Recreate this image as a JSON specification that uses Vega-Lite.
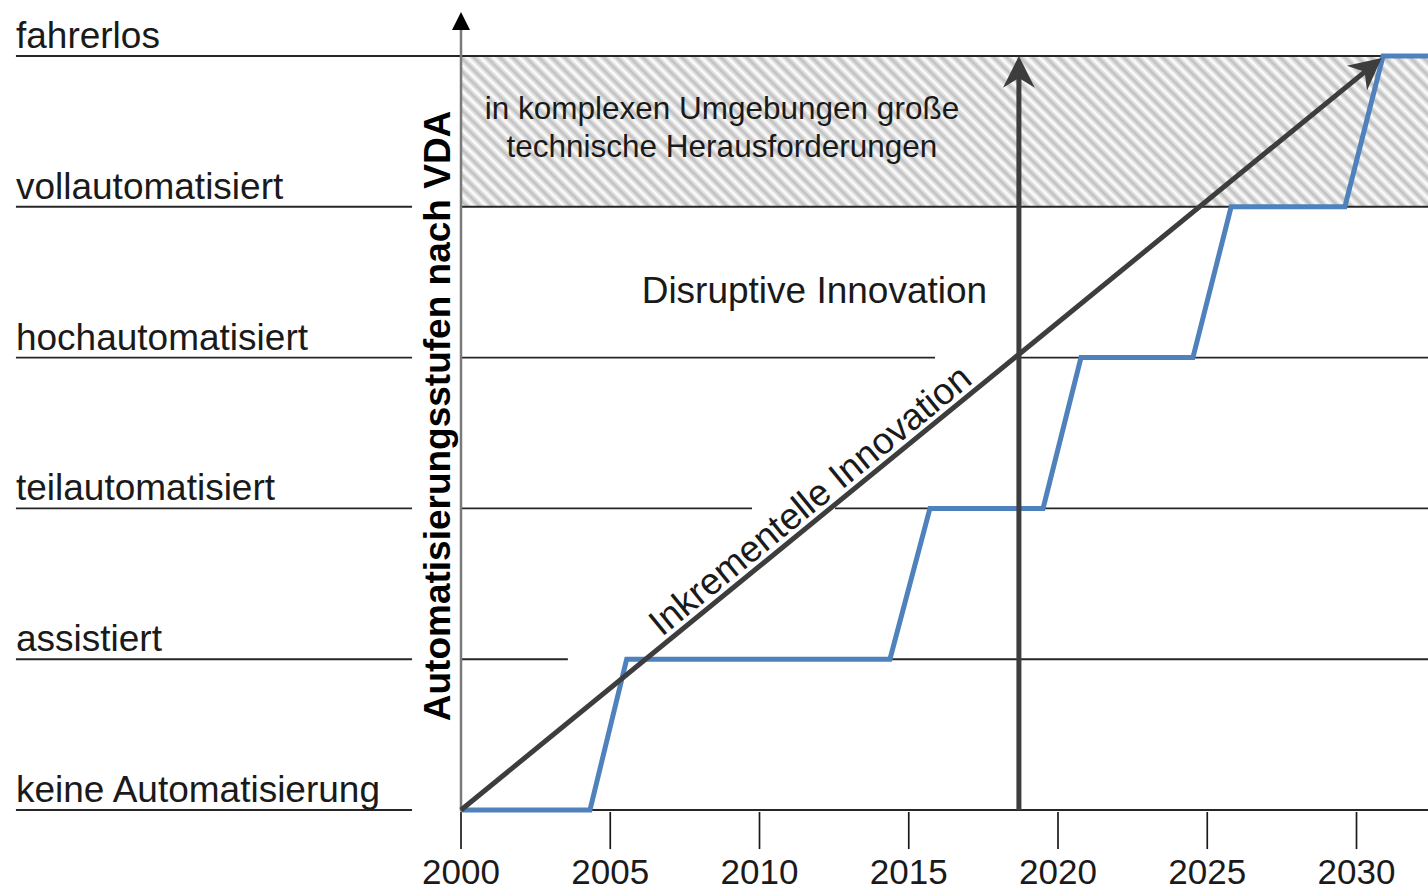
{
  "$schema": "https://vega.github.io/schema/vega-lite/v6.json",
  "width": 1428,
  "height": 890,
  "padding": 0,
  "autosize": {"type": "none"},
  "background": "white",
  "config": {"view": {"stroke": null}, "font": "Liberation Sans"},
  "datasets": {
    "zone": [{"x1": 2000, "x2": 2032.4, "y1": 4, "y2": 5}],
    "levels": [
      {"level": 0, "label": "keine Automatisierung"},
      {"level": 1, "label": "assistiert"},
      {"level": 2, "label": "teilautomatisiert"},
      {"level": 3, "label": "hochautomatisiert"},
      {"level": 4, "label": "vollautomatisiert"},
      {"level": 5, "label": "fahrerlos"}
    ],
    "segments": [
      {"level": 0, "from": 1985.09, "to": 1998.36},
      {"level": 1, "from": 1985.09, "to": 1998.36},
      {"level": 2, "from": 1985.09, "to": 1998.36},
      {"level": 3, "from": 1985.09, "to": 1998.36},
      {"level": 4, "from": 1985.09, "to": 1998.36},
      {"level": 5, "from": 1985.09, "to": 2032.4},
      {"level": 0, "from": 2000, "to": 2032.4},
      {"level": 1, "from": 2000, "to": 2003.58},
      {"level": 1, "from": 2005.55, "to": 2032.4},
      {"level": 2, "from": 2000, "to": 2009.75},
      {"level": 2, "from": 2012.53, "to": 2032.4},
      {"level": 3, "from": 2000, "to": 2015.88},
      {"level": 3, "from": 2018.69, "to": 2032.4},
      {"level": 4, "from": 2000, "to": 2032.4}
    ],
    "steps": [
      {"year": 2000, "level": 0},
      {"year": 2004.32, "level": 0},
      {"year": 2005.55, "level": 1},
      {"year": 2014.37, "level": 1},
      {"year": 2015.71, "level": 2},
      {"year": 2019.5, "level": 2},
      {"year": 2020.77, "level": 3},
      {"year": 2024.52, "level": 3},
      {"year": 2025.8, "level": 4},
      {"year": 2029.61, "level": 4},
      {"year": 2030.89, "level": 5},
      {"year": 2032.4, "level": 5}
    ],
    "arrows": [
      {"name": "inkrementell", "x1": 2000, "y1": 0, "x2": 2030.4, "y2": 4.915},
      {"name": "disruptiv", "x1": 2018.69, "y1": 0, "x2": 2018.69, "y2": 4.89}
    ],
    "yaxis": [{"x1": 2000, "y1": -0.01, "x2": 2000, "y2": 5.23}],
    "axisTip": [{"year": 2000, "level": 5.292}],
    "vTip": [{"year": 2018.69, "level": 5.0}],
    "dTip": [{"year": 2030.84, "level": 4.987}],
    "years": [
      {"year": 2000, "label": "2000"},
      {"year": 2005, "label": "2005"},
      {"year": 2010, "label": "2010"},
      {"year": 2015, "label": "2015"},
      {"year": 2020, "label": "2020"},
      {"year": 2025, "label": "2025"},
      {"year": 2030, "label": "2030"}
    ],
    "notes": [
      {"year": 2008.74, "level": 4.582, "text": "in komplexen Umgebungen große"},
      {"year": 2008.74, "level": 4.33, "text": "technische Herausforderungen"}
    ],
    "disruptive": [{"year": 2011.84, "level": 3.362, "text": "Disruptive Innovation"}],
    "inkr": [{"year": 2012.1, "level": 1.955, "text": "Inkrementelle Innovation"}],
    "ytitle": [{"year": 1999.63, "level": 2.613, "text": "Automatisierungsstufen nach VDA"}]
  },
  "layer": [
    {
      "data": {"name": "zone"},
      "mark": {
        "type": "rect",
        "fill": {
          "gradient": "linear",
          "x1": 0, "y1": 1, "x2": 1.3124, "y2": 0.795,
          "stops": [
            {"offset":0,"color":"#ffffff"},{"offset":0.005,"color":"#bebebe"},
            {"offset":0.01,"color":"#ffffff"},{"offset":0.015,"color":"#bebebe"},
            {"offset":0.02,"color":"#ffffff"},{"offset":0.025,"color":"#bebebe"},
            {"offset":0.03,"color":"#ffffff"},{"offset":0.035,"color":"#bebebe"},
            {"offset":0.04,"color":"#ffffff"},{"offset":0.045,"color":"#bebebe"},
            {"offset":0.05,"color":"#ffffff"},{"offset":0.055,"color":"#bebebe"},
            {"offset":0.06,"color":"#ffffff"},{"offset":0.065,"color":"#bebebe"},
            {"offset":0.07,"color":"#ffffff"},{"offset":0.075,"color":"#bebebe"},
            {"offset":0.08,"color":"#ffffff"},{"offset":0.085,"color":"#bebebe"},
            {"offset":0.09,"color":"#ffffff"},{"offset":0.095,"color":"#bebebe"},
            {"offset":0.1,"color":"#ffffff"},{"offset":0.105,"color":"#bebebe"},
            {"offset":0.11,"color":"#ffffff"},{"offset":0.115,"color":"#bebebe"},
            {"offset":0.12,"color":"#ffffff"},{"offset":0.125,"color":"#bebebe"},
            {"offset":0.13,"color":"#ffffff"},{"offset":0.135,"color":"#bebebe"},
            {"offset":0.14,"color":"#ffffff"},{"offset":0.145,"color":"#bebebe"},
            {"offset":0.15,"color":"#ffffff"},{"offset":0.155,"color":"#bebebe"},
            {"offset":0.16,"color":"#ffffff"},{"offset":0.165,"color":"#bebebe"},
            {"offset":0.17,"color":"#ffffff"},{"offset":0.175,"color":"#bebebe"},
            {"offset":0.18,"color":"#ffffff"},{"offset":0.185,"color":"#bebebe"},
            {"offset":0.19,"color":"#ffffff"},{"offset":0.195,"color":"#bebebe"},
            {"offset":0.2,"color":"#ffffff"},{"offset":0.205,"color":"#bebebe"},
            {"offset":0.21,"color":"#ffffff"},{"offset":0.215,"color":"#bebebe"},
            {"offset":0.22,"color":"#ffffff"},{"offset":0.225,"color":"#bebebe"},
            {"offset":0.23,"color":"#ffffff"},{"offset":0.235,"color":"#bebebe"},
            {"offset":0.24,"color":"#ffffff"},{"offset":0.245,"color":"#bebebe"},
            {"offset":0.25,"color":"#ffffff"},{"offset":0.255,"color":"#bebebe"},
            {"offset":0.26,"color":"#ffffff"},{"offset":0.265,"color":"#bebebe"},
            {"offset":0.27,"color":"#ffffff"},{"offset":0.275,"color":"#bebebe"},
            {"offset":0.28,"color":"#ffffff"},{"offset":0.285,"color":"#bebebe"},
            {"offset":0.29,"color":"#ffffff"},{"offset":0.295,"color":"#bebebe"},
            {"offset":0.3,"color":"#ffffff"},{"offset":0.305,"color":"#bebebe"},
            {"offset":0.31,"color":"#ffffff"},{"offset":0.315,"color":"#bebebe"},
            {"offset":0.32,"color":"#ffffff"},{"offset":0.325,"color":"#bebebe"},
            {"offset":0.33,"color":"#ffffff"},{"offset":0.335,"color":"#bebebe"},
            {"offset":0.34,"color":"#ffffff"},{"offset":0.345,"color":"#bebebe"},
            {"offset":0.35,"color":"#ffffff"},{"offset":0.355,"color":"#bebebe"},
            {"offset":0.36,"color":"#ffffff"},{"offset":0.365,"color":"#bebebe"},
            {"offset":0.37,"color":"#ffffff"},{"offset":0.375,"color":"#bebebe"},
            {"offset":0.38,"color":"#ffffff"},{"offset":0.385,"color":"#bebebe"},
            {"offset":0.39,"color":"#ffffff"},{"offset":0.395,"color":"#bebebe"},
            {"offset":0.4,"color":"#ffffff"},{"offset":0.405,"color":"#bebebe"},
            {"offset":0.41,"color":"#ffffff"},{"offset":0.415,"color":"#bebebe"},
            {"offset":0.42,"color":"#ffffff"},{"offset":0.425,"color":"#bebebe"},
            {"offset":0.43,"color":"#ffffff"},{"offset":0.435,"color":"#bebebe"},
            {"offset":0.44,"color":"#ffffff"},{"offset":0.445,"color":"#bebebe"},
            {"offset":0.45,"color":"#ffffff"},{"offset":0.455,"color":"#bebebe"},
            {"offset":0.46,"color":"#ffffff"},{"offset":0.465,"color":"#bebebe"},
            {"offset":0.47,"color":"#ffffff"},{"offset":0.475,"color":"#bebebe"},
            {"offset":0.48,"color":"#ffffff"},{"offset":0.485,"color":"#bebebe"},
            {"offset":0.49,"color":"#ffffff"},{"offset":0.495,"color":"#bebebe"},
            {"offset":0.5,"color":"#ffffff"},{"offset":0.505,"color":"#bebebe"},
            {"offset":0.51,"color":"#ffffff"},{"offset":0.515,"color":"#bebebe"},
            {"offset":0.52,"color":"#ffffff"},{"offset":0.525,"color":"#bebebe"},
            {"offset":0.53,"color":"#ffffff"},{"offset":0.535,"color":"#bebebe"},
            {"offset":0.54,"color":"#ffffff"},{"offset":0.545,"color":"#bebebe"},
            {"offset":0.55,"color":"#ffffff"},{"offset":0.555,"color":"#bebebe"},
            {"offset":0.56,"color":"#ffffff"},{"offset":0.565,"color":"#bebebe"},
            {"offset":0.57,"color":"#ffffff"},{"offset":0.575,"color":"#bebebe"},
            {"offset":0.58,"color":"#ffffff"},{"offset":0.585,"color":"#bebebe"},
            {"offset":0.59,"color":"#ffffff"},{"offset":0.595,"color":"#bebebe"},
            {"offset":0.6,"color":"#ffffff"},{"offset":0.605,"color":"#bebebe"},
            {"offset":0.61,"color":"#ffffff"},{"offset":0.615,"color":"#bebebe"},
            {"offset":0.62,"color":"#ffffff"},{"offset":0.625,"color":"#bebebe"},
            {"offset":0.63,"color":"#ffffff"},{"offset":0.635,"color":"#bebebe"},
            {"offset":0.64,"color":"#ffffff"},{"offset":0.645,"color":"#bebebe"},
            {"offset":0.65,"color":"#ffffff"},{"offset":0.655,"color":"#bebebe"},
            {"offset":0.66,"color":"#ffffff"},{"offset":0.665,"color":"#bebebe"},
            {"offset":0.67,"color":"#ffffff"},{"offset":0.675,"color":"#bebebe"},
            {"offset":0.68,"color":"#ffffff"},{"offset":0.685,"color":"#bebebe"},
            {"offset":0.69,"color":"#ffffff"},{"offset":0.695,"color":"#bebebe"},
            {"offset":0.7,"color":"#ffffff"},{"offset":0.705,"color":"#bebebe"},
            {"offset":0.71,"color":"#ffffff"},{"offset":0.715,"color":"#bebebe"},
            {"offset":0.72,"color":"#ffffff"},{"offset":0.725,"color":"#bebebe"},
            {"offset":0.73,"color":"#ffffff"},{"offset":0.735,"color":"#bebebe"},
            {"offset":0.74,"color":"#ffffff"},{"offset":0.745,"color":"#bebebe"},
            {"offset":0.75,"color":"#ffffff"},{"offset":0.755,"color":"#bebebe"},
            {"offset":0.76,"color":"#ffffff"},{"offset":0.765,"color":"#bebebe"},
            {"offset":0.77,"color":"#ffffff"},{"offset":0.775,"color":"#bebebe"},
            {"offset":0.78,"color":"#ffffff"},{"offset":0.785,"color":"#bebebe"},
            {"offset":0.79,"color":"#ffffff"},{"offset":0.795,"color":"#bebebe"},
            {"offset":0.8,"color":"#ffffff"},{"offset":0.805,"color":"#bebebe"},
            {"offset":0.81,"color":"#ffffff"},{"offset":0.815,"color":"#bebebe"},
            {"offset":0.82,"color":"#ffffff"},{"offset":0.825,"color":"#bebebe"},
            {"offset":0.83,"color":"#ffffff"},{"offset":0.835,"color":"#bebebe"},
            {"offset":0.84,"color":"#ffffff"},{"offset":0.845,"color":"#bebebe"},
            {"offset":0.85,"color":"#ffffff"},{"offset":0.855,"color":"#bebebe"},
            {"offset":0.86,"color":"#ffffff"},{"offset":0.865,"color":"#bebebe"},
            {"offset":0.87,"color":"#ffffff"},{"offset":0.875,"color":"#bebebe"},
            {"offset":0.88,"color":"#ffffff"},{"offset":0.885,"color":"#bebebe"},
            {"offset":0.89,"color":"#ffffff"},{"offset":0.895,"color":"#bebebe"},
            {"offset":0.9,"color":"#ffffff"},{"offset":0.905,"color":"#bebebe"},
            {"offset":0.91,"color":"#ffffff"},{"offset":0.915,"color":"#bebebe"},
            {"offset":0.92,"color":"#ffffff"},{"offset":0.925,"color":"#bebebe"},
            {"offset":0.93,"color":"#ffffff"},{"offset":0.935,"color":"#bebebe"},
            {"offset":0.94,"color":"#ffffff"},{"offset":0.945,"color":"#bebebe"},
            {"offset":0.95,"color":"#ffffff"},{"offset":0.955,"color":"#bebebe"},
            {"offset":0.96,"color":"#ffffff"},{"offset":0.965,"color":"#bebebe"},
            {"offset":0.97,"color":"#ffffff"},{"offset":0.975,"color":"#bebebe"},
            {"offset":0.98,"color":"#ffffff"},{"offset":0.985,"color":"#bebebe"},
            {"offset":0.99,"color":"#ffffff"},{"offset":0.995,"color":"#bebebe"},
            {"offset":1,"color":"#ffffff"}
          ]
        }
      },
      "encoding": {
        "x": {"field": "x1", "type": "quantitative", "scale": {"domain": [1984.556, 2032.395], "nice": false, "zero": false}, "axis": null},
        "x2": {"field": "x2"},
        "y": {"field": "y1", "type": "quantitative", "scale": {"domain": [-0.5305, 5.3714], "nice": false, "zero": false}, "axis": null},
        "y2": {"field": "y2"}
      }
    },
    {
      "data": {"name": "segments"},
      "mark": {"type": "rule", "color": "#262626", "strokeWidth": 1.9},
      "encoding": {
        "x": {"field": "from", "type": "quantitative", "scale": {"domain": [1984.556, 2032.395], "nice": false, "zero": false}, "axis": null},
        "x2": {"field": "to"},
        "y": {"field": "level", "type": "quantitative", "scale": {"domain": [-0.5305, 5.3714], "nice": false, "zero": false}, "axis": null}
      }
    },
    {
      "data": {"name": "years"},
      "mark": {"type": "rule", "color": "#1a1a1a", "strokeWidth": 1.7},
      "encoding": {
        "x": {"field": "year", "type": "quantitative", "scale": {"domain": [1984.556, 2032.395], "nice": false, "zero": false}, "axis": null},
        "y": {"datum": -0.013, "type": "quantitative", "scale": {"domain": [-0.5305, 5.3714], "nice": false, "zero": false}, "axis": null},
        "y2": {"datum": -0.259}
      }
    },
    {
      "data": {"name": "years"},
      "mark": {"type": "text", "fontSize": 35, "color": "#1a1a1a", "align": "center", "baseline": "alphabetic"},
      "encoding": {
        "x": {"field": "year", "type": "quantitative", "scale": {"domain": [1984.556, 2032.395], "nice": false, "zero": false}, "axis": null},
        "y": {"datum": -0.4907, "type": "quantitative", "scale": {"domain": [-0.5305, 5.3714], "nice": false, "zero": false}, "axis": null},
        "text": {"field": "label"}
      }
    },
    {
      "data": {"name": "yaxis"},
      "mark": {"type": "rule", "color": "#7a7a7a", "strokeWidth": 2.5},
      "encoding": {
        "x": {"field": "x1", "type": "quantitative", "scale": {"domain": [1984.556, 2032.395], "nice": false, "zero": false}, "axis": null},
        "y": {"field": "y1", "type": "quantitative", "scale": {"domain": [-0.5305, 5.3714], "nice": false, "zero": false}, "axis": null},
        "y2": {"field": "y2"}
      }
    },
    {
      "data": {"name": "axisTip"},
      "mark": {"type": "point", "shape": "M0,0 L0.5,1 L-0.5,1 Z", "size": 1300, "filled": true, "color": "#000000", "opacity": 1},
      "encoding": {
        "x": {"field": "year", "type": "quantitative", "scale": {"domain": [1984.556, 2032.395], "nice": false, "zero": false}, "axis": null},
        "y": {"field": "level", "type": "quantitative", "scale": {"domain": [-0.5305, 5.3714], "nice": false, "zero": false}, "axis": null}
      }
    },
    {
      "data": {"name": "steps"},
      "mark": {"type": "line", "color": "#4f81bd", "strokeWidth": 5, "strokeJoin": "miter"},
      "encoding": {
        "x": {"field": "year", "type": "quantitative", "scale": {"domain": [1984.556, 2032.395], "nice": false, "zero": false}, "axis": null},
        "y": {"field": "level", "type": "quantitative", "scale": {"domain": [-0.5305, 5.3714], "nice": false, "zero": false}, "axis": null}
      }
    },
    {
      "data": {"name": "arrows"},
      "mark": {"type": "rule", "color": "#3d3d3d", "strokeWidth": 5},
      "encoding": {
        "x": {"field": "x1", "type": "quantitative", "scale": {"domain": [1984.556, 2032.395], "nice": false, "zero": false}, "axis": null},
        "x2": {"field": "x2"},
        "y": {"field": "y1", "type": "quantitative", "scale": {"domain": [-0.5305, 5.3714], "nice": false, "zero": false}, "axis": null},
        "y2": {"field": "y2"}
      }
    },
    {
      "data": {"name": "vTip"},
      "mark": {"type": "point", "shape": "M0,0 L0.45,0.9 L0,0.62 L-0.45,0.9 Z", "size": 5000, "filled": true, "color": "#3d3d3d", "opacity": 1},
      "encoding": {
        "x": {"field": "year", "type": "quantitative", "scale": {"domain": [1984.556, 2032.395], "nice": false, "zero": false}, "axis": null},
        "y": {"field": "level", "type": "quantitative", "scale": {"domain": [-0.5305, 5.3714], "nice": false, "zero": false}, "axis": null}
      }
    },
    {
      "data": {"name": "dTip"},
      "mark": {"type": "point", "shape": "M0,0 L0.45,0.9 L0,0.62 L-0.45,0.9 Z", "size": 5000, "filled": true, "color": "#3d3d3d", "opacity": 1, "angle": 50.74},
      "encoding": {
        "x": {"field": "year", "type": "quantitative", "scale": {"domain": [1984.556, 2032.395], "nice": false, "zero": false}, "axis": null},
        "y": {"field": "level", "type": "quantitative", "scale": {"domain": [-0.5305, 5.3714], "nice": false, "zero": false}, "axis": null}
      }
    },
    {
      "data": {"name": "levels"},
      "mark": {"type": "text", "fontSize": 37, "color": "#1a1a1a", "align": "left", "baseline": "alphabetic", "dy": -8},
      "encoding": {
        "x": {"datum": 1985.09, "type": "quantitative", "scale": {"domain": [1984.556, 2032.395], "nice": false, "zero": false}, "axis": null},
        "y": {"field": "level", "type": "quantitative", "scale": {"domain": [-0.5305, 5.3714], "nice": false, "zero": false}, "axis": null},
        "text": {"field": "label"}
      }
    },
    {
      "data": {"name": "notes"},
      "mark": {"type": "text", "fontSize": 31.5, "color": "#1a1a1a", "align": "center", "baseline": "alphabetic"},
      "encoding": {
        "x": {"field": "year", "type": "quantitative", "scale": {"domain": [1984.556, 2032.395], "nice": false, "zero": false}, "axis": null},
        "y": {"field": "level", "type": "quantitative", "scale": {"domain": [-0.5305, 5.3714], "nice": false, "zero": false}, "axis": null},
        "text": {"field": "text"}
      }
    },
    {
      "data": {"name": "disruptive"},
      "mark": {"type": "text", "fontSize": 37, "color": "#1a1a1a", "align": "center", "baseline": "alphabetic"},
      "encoding": {
        "x": {"field": "year", "type": "quantitative", "scale": {"domain": [1984.556, 2032.395], "nice": false, "zero": false}, "axis": null},
        "y": {"field": "level", "type": "quantitative", "scale": {"domain": [-0.5305, 5.3714], "nice": false, "zero": false}, "axis": null},
        "text": {"field": "text"}
      }
    },
    {
      "data": {"name": "inkr"},
      "mark": {"type": "text", "fontSize": 37, "color": "#1a1a1a", "align": "center", "baseline": "alphabetic", "angle": -39.26, "dy": -7},
      "encoding": {
        "x": {"field": "year", "type": "quantitative", "scale": {"domain": [1984.556, 2032.395], "nice": false, "zero": false}, "axis": null},
        "y": {"field": "level", "type": "quantitative", "scale": {"domain": [-0.5305, 5.3714], "nice": false, "zero": false}, "axis": null},
        "text": {"field": "text"}
      }
    },
    {
      "data": {"name": "ytitle"},
      "mark": {"type": "text", "fontSize": 37, "fontWeight": "bold", "color": "#000000", "align": "center", "baseline": "alphabetic", "angle": -90},
      "encoding": {
        "x": {"field": "year", "type": "quantitative", "scale": {"domain": [1984.556, 2032.395], "nice": false, "zero": false}, "axis": null},
        "y": {"field": "level", "type": "quantitative", "scale": {"domain": [-0.5305, 5.3714], "nice": false, "zero": false}, "axis": null},
        "text": {"field": "text"}
      }
    }
  ]
}
